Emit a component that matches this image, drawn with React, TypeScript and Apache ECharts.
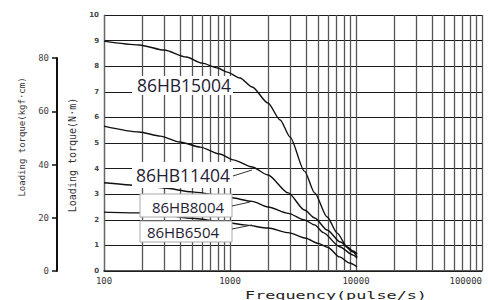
import React, { useEffect, useRef } from "react";
import * as echarts from "echarts";

// ---- data ----
const seriesNames = ["86HB15004", "86HB11404", "86HB8004", "86HB6504"];

const freq15004 = [100, 190, 300, 450, 600, 800, 950, 1200, 1500, 2000, 2500, 3000, 3900, 4700, 5900, 7100, 8500, 9500, 10200];
const torque15004 = [8.98, 8.83, 8.63, 8.36, 8.12, 7.93, 7.77, 7.54, 7.19, 6.56, 5.9, 5.23, 3.9, 3.05, 2.11, 1.48, 0.94, 0.78, 0.66];

const freq11404 = [100, 190, 280, 400, 580, 830, 1060, 1500, 2000, 2900, 3900, 4700, 5900, 7500, 9500, 10200];
const torque11404 = [5.66, 5.43, 5.27, 5.04, 4.84, 4.57, 4.34, 4.06, 3.75, 3.05, 2.38, 2.07, 1.6, 1.13, 0.74, 0.55];

const freq8004 = [100, 190, 300, 500, 800, 1000, 1500, 2000, 2900, 3900, 4700, 5500, 7400, 9500, 10200];
const torque8004 = [3.45, 3.35, 3.24, 3.09, 2.97, 2.87, 2.72, 2.5, 2.25, 1.99, 1.8, 1.5, 0.95, 0.62, 0.5];

const freq6504 = [100, 190, 300, 500, 900, 1300, 2000, 2900, 4000, 5000, 6000, 7400, 8900, 10200];
const torque6504 = [2.3, 2.27, 2.18, 2.06, 1.91, 1.8, 1.68, 1.5, 1.28, 1.08, 0.92, 0.55, 0.31, 0.16];

const minorGridFreqs = [
  200, 300, 400, 500, 600, 700, 800, 900,
  2000, 3000, 4000, 5000, 6000, 7000, 8000, 9000,
  20000, 30000, 40000, 50000, 60000, 70000, 80000, 90000,
];

const xAxisName = "Frequency(pulse/s)";
const yAxisNameNm = "Loading torque(N·m)";
const yAxisNameKgf = "Loading torque(kgf·cm)";

const curves = [
  { name: seriesNames[0], f: freq15004, t: torque15004 },
  { name: seriesNames[1], f: freq11404, t: torque11404 },
  { name: seriesNames[2], f: freq8004, t: torque8004 },
  { name: seriesNames[3], f: freq6504, t: torque6504 },
];

const MONO = "DejaVu Sans Mono";
const LABEL_FONT = "Open Sans";
const LABEL_COLOR = "#1f2233";

function buildOption() {
  const series: any[] = curves.map((c, idx) => ({
    name: c.name,
    type: "line",
    xAxisIndex: 0,
    yAxisIndex: 0,
    smooth: 0.25,
    smoothMonotone: "x",
    showSymbol: false,
    symbol: "none",
    silent: true,
    z: 5,
    lineStyle: { color: "#111", width: 1.4 },
    data: c.f.map((f, i) => [f, c.t[i]]),
    markLine:
      idx === 0
        ? {
            silent: true,
            symbol: "none",
            z: 1,
            label: { show: false },
            lineStyle: { color: "#555", width: 1.3, type: "solid" },
            data: minorGridFreqs.map((f) => ({ xAxis: f })),
          }
        : undefined,
  }));

  const labelBox = (x: number, y: number, w: number, h: number, border: boolean) => ({
    type: "rect",
    z: 100,
    shape: { x, y, width: w, height: h },
    style: { fill: "#fff", stroke: border ? "#aaa" : null, lineWidth: 1 },
  });
  const labelText = (text: string, x: number, y: number, size: number) => ({
    type: "text",
    z: 101,
    x,
    y,
    style: {
      text,
      fill: LABEL_COLOR,
      font: `${size}px "${LABEL_FONT}"`,
      textAlign: "center",
      textVerticalAlign: "middle",
    },
  });
  const leader = (x1: number, y1: number, x2: number, y2: number) => ({
    type: "line",
    z: 101,
    shape: { x1, y1, x2, y2 },
    style: { stroke: "#333", lineWidth: 1 },
  });

  return {
    animation: false,
    backgroundColor: "#fff",
    grid: [
      { left: 104, right: 6, top: 15, bottom: 29 },
      { left: 57, width: 1, top: 58, bottom: 29 },
    ],
    xAxis: [
      {
        type: "log",
        logBase: 10,
        min: 100,
        max: 100000,
        gridIndex: 0,
        axisLine: { show: true, lineStyle: { color: "#222", width: 1.5 } },
        axisTick: { show: false },
        axisLabel: {
          fontSize: 9,
          color: "#333",
          margin: 5,
          fontFamily: MONO,
          alignMaxLabel: "right",
          formatter: (v: number) => String(Math.round(v)),
        },
        splitLine: { show: true, lineStyle: { color: "#555", width: 1.3 } },
      },
      { type: "value", gridIndex: 1, show: false, min: 0, max: 1 },
    ],
    yAxis: [
      {
        type: "value",
        gridIndex: 0,
        min: 0,
        max: 10,
        interval: 1,
        axisLine: { show: true, lineStyle: { color: "#666", width: 1.2 } },
        axisTick: { show: false },
        axisLabel: { fontSize: 7, fontWeight: "bold", color: "#444", margin: 5, fontFamily: "DejaVu Sans" },
        splitLine: { show: true, lineStyle: { color: "#1a1a1a", width: 1.2 } },
      },
      {
        type: "value",
        gridIndex: 1,
        min: 0,
        max: 80,
        interval: 20,
        position: "left",
        axisLine: { show: true, onZero: false, lineStyle: { color: "#111", width: 2 } },
        axisTick: { show: true, length: 5, lineStyle: { color: "#111", width: 1.5 } },
        axisLabel: { fontSize: 9, color: "#444", margin: 8, fontFamily: MONO },
        splitLine: { show: false },
      },
    ],
    series,
    graphic: [
      // label boxes
      labelBox(132, 76, 101, 19, false),
      labelText(seriesNames[0], 184, 85, 17.5),
      labelBox(132, 162, 101, 26, false),
      labelText(seriesNames[1], 183, 175, 17.5),
      labelBox(140, 194, 92, 23, true),
      labelText(seriesNames[2], 188, 207, 15),
      labelBox(140, 221, 92, 21, true),
      labelText(seriesNames[3], 183, 232, 15),
      leader(233, 176, 252, 170),
      leader(232, 206, 250, 202),
      leader(232, 229, 252, 225),
      // axis names
      {
        type: "text",
        z: 101,
        x: 22,
        y: 137,
        rotation: Math.PI / 2,
        style: {
          text: yAxisNameKgf,
          fill: "#333",
          font: `9px "${MONO}"`,
          textAlign: "center",
          textVerticalAlign: "middle",
        },
      },
      {
        type: "text",
        z: 101,
        x: 72,
        y: 155,
        rotation: Math.PI / 2,
        style: {
          text: yAxisNameNm,
          fill: "#333",
          font: `10px "${MONO}"`,
          textAlign: "center",
          textVerticalAlign: "middle",
        },
      },
      {
        type: "text",
        z: 101,
        x: 336,
        y: 295,
        scaleX: 1.6,
        style: {
          text: xAxisName,
          fill: "#222",
          font: `10.5px "${MONO}"`,
          textAlign: "center",
          textVerticalAlign: "middle",
        },
      },
    ],
  };
}

export default function App() {
  const ref = useRef<HTMLDivElement>(null);
  useEffect(() => {
    if (!ref.current) return;
    const chart = echarts.init(ref.current, null, { renderer: "svg" });
    chart.setOption(buildOption() as any);
    return () => chart.dispose();
  }, []);
  return (
    <div
      ref={ref}
      style={{ position: "fixed", left: 0, top: 0, width: 488, height: 300, background: "#fff" }}
    />
  );
}
